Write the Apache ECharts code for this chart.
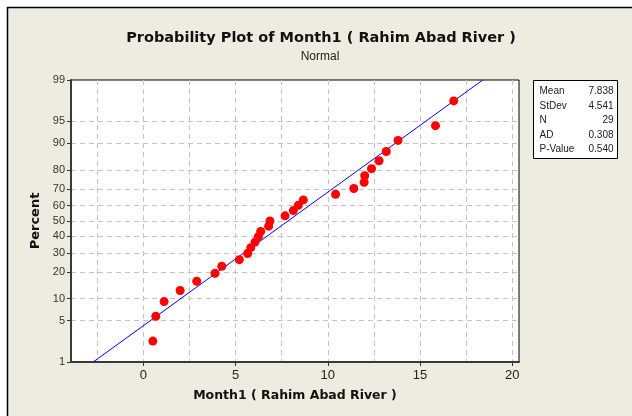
<!DOCTYPE html>
<html>
<head>
<meta charset="utf-8">
<script src="https://cdn.jsdelivr.net/npm/echarts@6/dist/echarts.min.js"></script>
<style>
  html, body { margin: 0; padding: 0; background: #fff; }
  #probPlot { width: 632px; height: 416px; }
</style>
</head>
<body>
<div id="probPlot"></div>
<script>
// Month1 (Rahim Abad River), sorted values
const month1Values = [0.51, 0.67, 1.12, 1.99, 2.89, 3.88, 4.25, 5.2, 5.65, 5.82,
  6.05, 6.23, 6.36, 6.79, 6.86, 7.68, 8.13, 8.4, 8.67, 10.42,
  11.41, 11.97, 12.0, 12.37, 12.78, 13.17, 13.81, 15.84, 16.83]
// plotted percent for each point
const percentValues = [2.38, 5.78, 9.18, 12.59, 15.99, 19.39, 22.79, 26.19, 29.59, 32.99,
  36.39, 39.8, 43.2, 46.6, 50.0, 53.4, 56.8, 60.2, 63.61, 67.01,
  70.41, 73.81, 77.21, 80.61, 84.01, 87.41, 90.82, 94.22, 97.62]

const percentTicks = [1, 5, 10, 20, 30, 40, 50, 60, 70, 80, 90, 95, 99]
const percentGrid = [5, 10, 20, 30, 40, 50, 60, 70, 80, 90, 95]
const xTicks = [0, 5, 10, 15, 20]
const xGrid = [-2.5, 0, 2.5, 5, 7.5, 10, 12.5, 15, 17.5, 20]

const fitMean = 7.838
const fitStDev = 4.541
const statLabels = ['Mean', 'StDev', 'N', 'AD', 'P-Value']
const statValues = ['7.838', '4.541', '29', '0.308', '0.540']

// inverse normal cdf (Acklam), used for the probability scale
function normInv(p) {
  const a = [-3.969683028665376e+01, 2.209460984245205e+02, -2.759285104469687e+02, 1.383577518672690e+02, -3.066479806614716e+01, 2.506628277459239e+00]
  const b = [-5.447609879822406e+01, 1.615858368580409e+02, -1.556989798598866e+02, 6.680131188771972e+01, -1.328068155288572e+01]
  const c = [-7.784894002430293e-03, -3.223964580411365e-01, -2.400758277161838e+00, -2.549732539343734e+00, 4.374664141464968e+00, 2.938163982698783e+00]
  const d = [7.784695709041462e-03, 3.224671290700398e-01, 2.445134137142996e+00, 3.754408661907416e+00]
  const pLow = 0.02425
  let q, r
  if (p < pLow) {
    q = Math.sqrt(-2 * Math.log(p))
    return (((((c[0] * q + c[1]) * q + c[2]) * q + c[3]) * q + c[4]) * q + c[5]) / ((((d[0] * q + d[1]) * q + d[2]) * q + d[3]) * q + 1)
  }
  if (p <= 1 - pLow) {
    q = p - 0.5
    r = q * q
    return (((((a[0] * r + a[1]) * r + a[2]) * r + a[3]) * r + a[4]) * r + a[5]) * q / (((((b[0] * r + b[1]) * r + b[2]) * r + b[3]) * r + b[4]) * r + 1)
  }
  q = Math.sqrt(-2 * Math.log(1 - p))
  return -(((((c[0] * q + c[1]) * q + c[2]) * q + c[3]) * q + c[4]) * q + c[5]) / ((((d[0] * q + d[1]) * q + d[2]) * q + d[3]) * q + 1)
}

const z = (pct) => normInv(pct / 100)
const zMin = z(1)
const zMax = z(99)

const pointData = month1Values.map((v, i) => [v, z(percentValues[i])])
const fitLine = [
  [fitMean + zMin * fitStDev, zMin],
  [fitMean + zMax * fitStDev, zMax],
]

const labelFor = (v) => {
  const hit = percentTicks.find(p => Math.abs(z(p) - v) < 1e-6)
  return hit === undefined ? '' : String(hit)
}

const font = 'Liberation Sans, Arial, sans-serif'
const boldFont = 'DejaVu Sans, Verdana, sans-serif'
const gridDash = { color: '#c4c4c4', width: 1, type: [5, 4] }

const chart = echarts.init(document.getElementById('probPlot'))

const option = {
  backgroundColor: '#fff',
  animation: false,
  textStyle: { fontFamily: font },
  graphic: [
    {
      type: 'rect',
      shape: { x: 7.5, y: 7.5, width: 640, height: 420 },
      style: { fill: '#eeebe1', stroke: '#000', lineWidth: 1.5 },
      z: -10,
    },
    {
      type: 'text', x: 321, y: 38,
      style: { text: 'Probability Plot of Month1 ( Rahim Abad River )', font: 'bold 14.5px ' + boldFont, fill: '#111', align: 'center', verticalAlign: 'middle' },
    },
    {
      type: 'text', x: 320, y: 57,
      style: { text: 'Normal', font: '12px ' + font, fill: '#222', align: 'center', verticalAlign: 'middle' },
    },
    {
      type: 'group', left: 533, top: 80,
      children: [
        { type: 'rect', shape: { x: 0, y: 0, width: 84, height: 78 }, style: { fill: '#fff', stroke: '#000', lineWidth: 1 } },
        ...statLabels.map((t, i) => ({
          type: 'text', x: 6, y: 11 + i * 14.5,
          style: { text: t, font: '10px ' + font, fill: '#222', verticalAlign: 'middle' },
        })),
        ...statValues.map((t, i) => ({
          type: 'text', x: 80, y: 11 + i * 14.5,
          style: { text: t, font: '10px ' + font, fill: '#222', align: 'right', verticalAlign: 'middle' },
        })),
      ],
    },
  ],
  grid: {
    left: 71, right: 113, top: 80, bottom: 54,
    show: true, backgroundColor: '#fff', borderColor: '#000', borderWidth: 1,
  },
  xAxis: [
    {
      type: 'value', min: -3.93, max: 20.37,
      name: 'Month1 ( Rahim Abad River )', nameLocation: 'middle', nameGap: 27,
      nameTextStyle: { fontSize: 12.5, fontWeight: 'bold', color: '#111', fontFamily: boldFont },
      axisLine: { onZero: false, lineStyle: { color: '#3a3a3a', width: 2 } },
      axisTick: { customValues: xTicks, length: 4, lineStyle: { color: '#333' } },
      axisLabel: { customValues: xTicks, fontSize: 13, color: '#222', margin: 7 },
      splitLine: { show: false },
    },
    {
      type: 'value', min: -3.93, max: 20.37, position: 'top',
      axisLine: { show: false, onZero: false },
      axisTick: { show: false, customValues: xGrid },
      axisLabel: { show: false },
      splitLine: { show: true, lineStyle: gridDash },
    },
  ],
  yAxis: [
    {
      type: 'value', min: zMin, max: zMax,
      name: 'Percent', nameLocation: 'middle', nameGap: 28, nameRotate: 90,
      nameTextStyle: { fontSize: 13, fontWeight: 'bold', color: '#111', fontFamily: boldFont },
      axisLine: { show: true, onZero: false, lineStyle: { color: '#3a3a3a', width: 2 } },
      axisTick: { show: true, customValues: percentTicks.map(z), length: 4, lineStyle: { color: '#333' } },
      axisLabel: { customValues: percentTicks.map(z), formatter: labelFor, fontSize: 11, color: '#333', margin: 6 },
      splitLine: { show: false },
    },
    {
      type: 'value', min: zMin, max: zMax, position: 'right',
      axisLine: { show: false, onZero: false },
      axisTick: { show: false, customValues: percentGrid.map(z) },
      axisLabel: { show: false },
      splitLine: { show: true, lineStyle: gridDash },
    },
  ],
  series: [
    {
      type: 'line',
      data: fitLine,
      showSymbol: false,
      lineStyle: { color: '#0000ff', width: 1 },
      z: 3,
    },
    {
      type: 'scatter',
      data: pointData,
      symbolSize: 9,
      itemStyle: { color: '#ff0000', opacity: 1 },
      z: 4,
    },
  ],
}

chart.setOption(option)
</script>
</body>
</html>
